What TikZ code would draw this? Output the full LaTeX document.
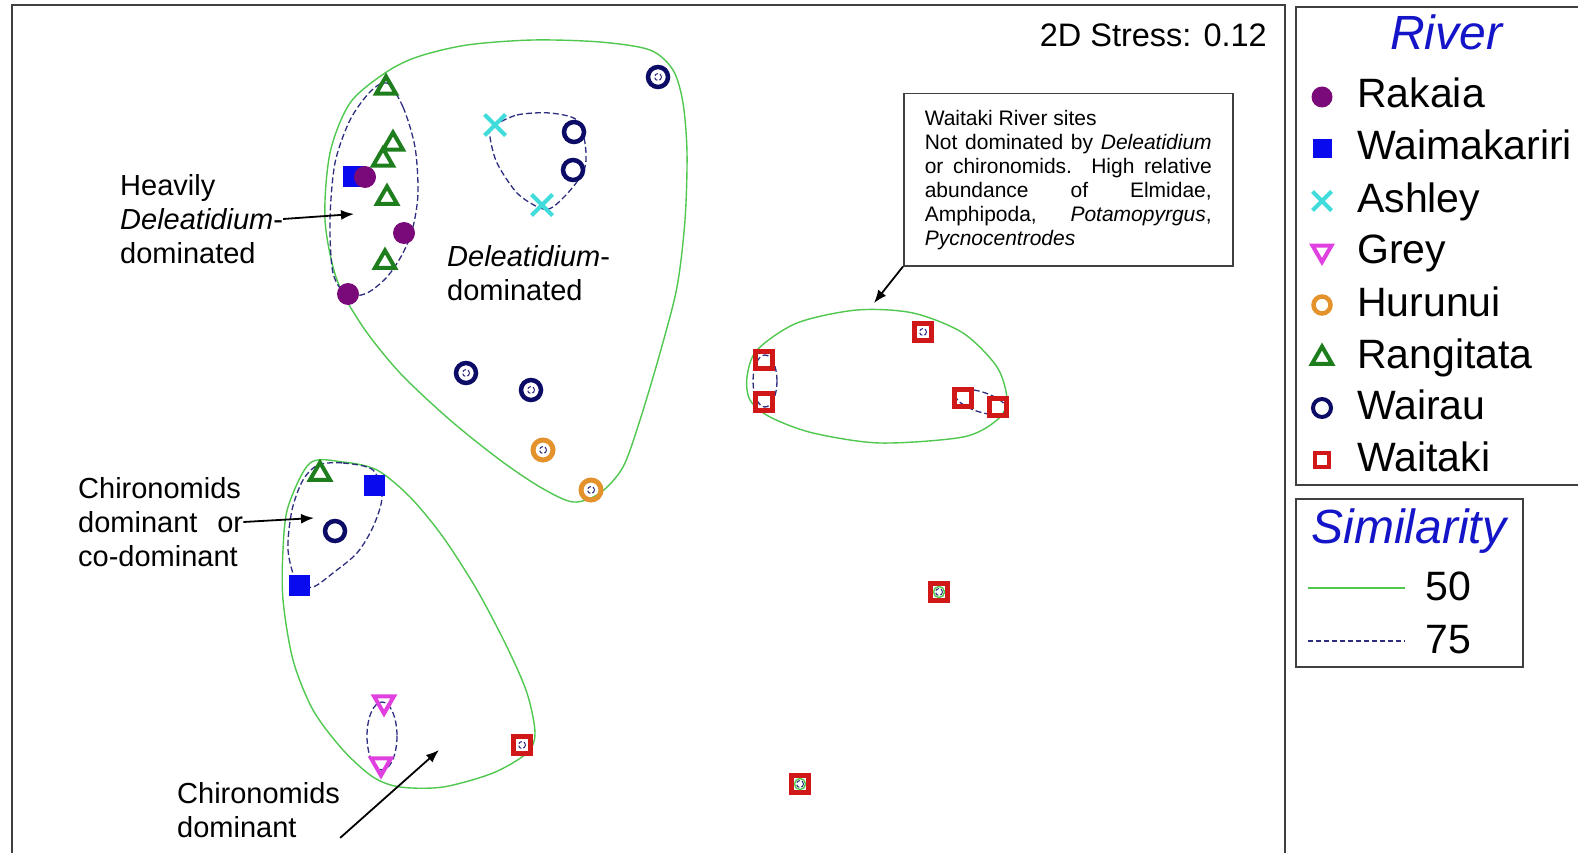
\documentclass[tikz,border=0pt]{standalone}
\usepackage{fontspec}
\setmainfont{Liberation Sans}
\usetikzlibrary{shapes.geometric,shapes.misc,arrows.meta}
\definecolor{rakaia}{HTML}{7A0A7A}
\definecolor{waimak}{HTML}{0A0AEE}
\definecolor{ashley}{HTML}{40DCDC}
\definecolor{greyriv}{HTML}{E040E0}
\definecolor{hurunui}{HTML}{E4922C}
\definecolor{rangi}{HTML}{1E7E1E}
\definecolor{wairau}{HTML}{0C0C66}
\definecolor{waitaki}{HTML}{D01818}
\definecolor{simfifty}{HTML}{50C850}
\definecolor{simseventy}{HTML}{2E2E80}
\definecolor{titleblue}{HTML}{1414C8}
\definecolor{frame}{HTML}{404040}

\begin{document}
\begin{tikzpicture}[x=1pt,y=-1pt,>={Latex[length=13pt,width=10pt]},
  sim50/.style={draw=simfifty,line width=1.4pt},
  sim75/.style={draw=simseventy,line width=1.3pt,dash pattern=on 6pt off 3pt},
  loopsmall/.style={draw=simseventy,line width=1pt,dash pattern=on 4pt off 2pt},
  rak/.style={circle,fill=rakaia,inner sep=0,minimum size=22pt},
  wmk/.style={rectangle,fill=waimak,inner sep=0,minimum size=21pt},
  ash/.style={cross out,draw=ashley,line width=4pt,inner sep=0,minimum size=17pt},
  gry/.style={regular polygon,regular polygon sides=3,shape border rotate=180,draw=greyriv,line width=4pt,inner sep=0,minimum size=23pt},
  hur/.style={circle,draw=hurunui,line width=5pt,inner sep=0,minimum size=20pt},
  ran/.style={regular polygon,regular polygon sides=3,draw=rangi,line width=4pt,inner sep=0,minimum size=23pt},
  wai/.style={circle,draw=wairau,line width=4.5pt,inner sep=0,minimum size=20pt},
  wtk/.style={rectangle,draw=waitaki,line width=5.5pt,inner sep=0,minimum size=17pt},
  lbl/.style={font=\fontsize{29}{34}\selectfont,align=left,inner sep=0},
  item/.style={font=\fontsize{41}{48}\selectfont,inner sep=0,anchor=base west},
  ttl/.style={font=\fontsize{48}{56}\selectfont\itshape,text=titleblue,inner sep=0,anchor=base},
  note/.style={->,line width=1.8pt}]
\useasboundingbox (0,0) rectangle (1578,853);
\fill[white] (0,0) rectangle (1578,853);

% frames
\draw[frame,line width=1.5pt] (12,860) -- (12,5) -- (1285,5) -- (1285,860);
\draw[frame,line width=1.5pt] (1296,7) rectangle (1600,485);
\draw[frame,line width=1.5pt] (1296,499) rectangle (1523,667);

\node[inner sep=0,anchor=base east,font=\fontsize{32.5}{39}\selectfont] (stress) at (1267,47) {2D Stress: 0.12};

% 50% similarity
\draw[sim50] plot[smooth cycle] coordinates {(385,73) (417,57) (467,45) (533,40) (600,42) (650,50) (673,70) (683,103) (687,153) (685,220) (677,287) (660,353) (640,420) (623,467) (600,493) (573,502) (540,487) (500,460) (450,420) (400,373) (363,327) (337,280) (325,220) (330,153) (350,103)};
\draw[sim50] plot[smooth cycle] coordinates {(310,463) (343,462) (377,470) (410,497) (443,537) (477,590) (507,647) (527,693) (535,733) (527,753) (493,773) (443,787) (400,787) (373,777) (343,750) (313,710) (293,660) (283,600) (283,550) (288,507)};
\draw[sim50] plot[smooth cycle] coordinates {(747,377) (757,350) (797,323) (857,310) (913,313) (963,333) (997,367) (1007,400) (997,420) (963,437) (880,443) (813,433) (770,417) (750,400)};

% 75% similarity
\draw[sim75] plot[smooth cycle] coordinates {(387,83) (403,107) (415,147) (418,193) (413,227) (403,253) (387,277) (367,293) (347,295) (333,273) (330,220) (335,163) (350,120) (370,92)};
\draw[sim75] plot[smooth cycle] coordinates {(492,127) (517,115) (550,113) (577,120) (585,143) (585,167) (573,187) (553,207) (540,208) (517,193) (497,163) (490,137)};
\draw[sim75] plot[smooth cycle] coordinates {(318,465) (343,463) (373,470) (382,497) (373,527) (357,553) (333,573) (313,587) (297,583) (288,550) (292,510) (303,480)};
\draw[sim75] (382,736) ellipse [x radius=15,y radius=34];
\draw[sim75] (765,381) ellipse [x radius=12,y radius=26];
\draw[sim75] (981,402) ellipse [x radius=27,y radius=10,rotate=-18];

% sites
\node[wmk] (wm1) at (353,177) {};
\node[wmk] (wm2) at (374,485) {};
\node[wmk] (wm3) at (299,585) {};
\node[rak] (rk1) at (365,177) {};
\node[rak] (rk2) at (404,233) {};
\node[rak] (rk3) at (348,294) {};
\node[ash] (as1) at (495,125) {};
\node[ash] (as2) at (542,205) {};
\node[gry] (gr1) at (384,702) {};
\node[gry] (gr2) at (381,764) {};
\node[hur] (hu1) at (543,450) {};
\node[hur] (hu2) at (591,490) {};
\node[ran] (ra1) at (386,88) {};
\node[ran] (ra2) at (393,144) {};
\node[ran] (ra3) at (383,160) {};
\node[ran] (ra4) at (387,198) {};
\node[ran] (ra5) at (385,262) {};
\node[ran] (ra6) at (320,474) {};
\node[wai] (wa1) at (658,77) {};
\node[wai] (wa2) at (574,132) {};
\node[wai] (wa3) at (573,170) {};
\node[wai] (wa4) at (466,373) {};
\node[wai] (wa5) at (531,390) {};
\node[wai] (wa6) at (335,531) {};
\node[wtk] (wt1) at (923,332) {};
\node[wtk] (wt2) at (764,360) {};
\node[wtk] (wt3) at (764,402) {};
\node[wtk] (wt4) at (963,398) {};
\node[wtk] (wt5) at (998,407) {};
\node[wtk] (wt6) at (939,592) {};
\node[wtk] (wt7) at (800,784) {};
\node[wtk] (wt8) at (522,745) {};

% single sites
\draw[loopsmall] (wa1) circle (3.5);
\draw[loopsmall] (wa4) circle (3.5);
\draw[loopsmall] (wa5) circle (3.5);
\draw[loopsmall] (hu1) circle (3.5);
\draw[loopsmall] (hu2) circle (3.5);
\draw[loopsmall] (wt1) circle (3.5);
\draw[loopsmall] (wt8) circle (3.5);
\draw[sim50] (wt6) circle (5.5);
\draw[loopsmall] (wt6) circle (3.5);
\draw[sim50] (wt7) circle (5.5);
\draw[loopsmall] (wt7) circle (3.5);

% labels
\node[lbl,anchor=west] (heavy) at (120,219) {Heavily\\\textit{Deleatidium}-\\dominated};
\coordinate (heavytip) at (354,214);
\draw[note] (heavy.east) -- (heavytip);

\node[lbl,anchor=west] (delea) at (447,273) {\textit{Deleatidium}-\\dominated};

\node[lbl,anchor=west,text width=165pt] (chiro) at (78,522) {Chironomids\\dominant\hfill or\\co-dominant};
\coordinate (chirotip) at (314,518);
\draw[note] (chiro.east) -- (chirotip);

\node[lbl,anchor=west] (chirob) at (177,810) {Chironomids\\dominant};
\coordinate (chirobtip) at (439,750);
\draw[note] (chirob.south east) -- (chirobtip);

\node[draw,frame,line width=1.5pt,text=black,anchor=north west,text width=287pt,inner xsep=21pt,minimum height=172pt,align=justify,font=\fontsize{21}{24}\selectfont] (wbox) at (903,93)
  {Waitaki River sites\newline Not dominated by \textit{Deleatidium}\linebreak or chironomids.\ \ High relative\linebreak abundance of Elmidae,\linebreak Amphipoda, \textit{Potamopyrgus},\linebreak \textit{Pycnocentrodes}};
\coordinate (wboxtip) at (874,303);
\draw[note] (wbox.south west) -- (wboxtip);

% legend
\node[ttl] (river) at (1446,50) {River};
\node[rak,minimum size=21pt] (lg1) at (1322,97) {};
\node[wmk,minimum size=19pt] (lg2) at (1322,149) {};
\node[ash,minimum size=15pt] (lg3) at (1322,201) {};
\node[gry,minimum size=22pt] (lg4) at (1322,251) {};
\node[hur,minimum size=17pt,line width=4.5pt] (lg5) at (1322,305) {};
\node[ran,minimum size=23pt] (lg6) at (1322,358) {};
\node[wai,minimum size=18pt,line width=4pt] (lg7) at (1322,408) {};
\node[wtk,minimum size=14pt,line width=4.5pt] (lg8) at (1322,460) {};
\node[item] (t1) at (1357,108) {Rakaia};
\node[item] (t2) at (1357,160) {Waimakariri};
\node[item] (t3) at (1357,212) {Ashley};
\node[item] (t4) at (1357,263) {Grey};
\node[item] (t5) at (1357,316) {Hurunui};
\node[item] (t6) at (1357,368) {Rangitata};
\node[item] (t7) at (1357,419) {Wairau};
\node[item] (t8) at (1357,471) {Waitaki};

\node[ttl] (simil) at (1409,543) {Similarity};
\coordinate (s50a) at (1308,588);
\coordinate (s50b) at (1405,588);
\coordinate (s75a) at (1308,641);
\coordinate (s75b) at (1405,641);
\draw[sim50] (s50a) -- (s50b);
\draw[sim75,dash pattern=on 5pt off 3pt] (s75a) -- (s75b);
\node[item] (v50) at (1425,600) {50};
\node[item] (v75) at (1425,653) {75};
\end{tikzpicture}
\end{document}
